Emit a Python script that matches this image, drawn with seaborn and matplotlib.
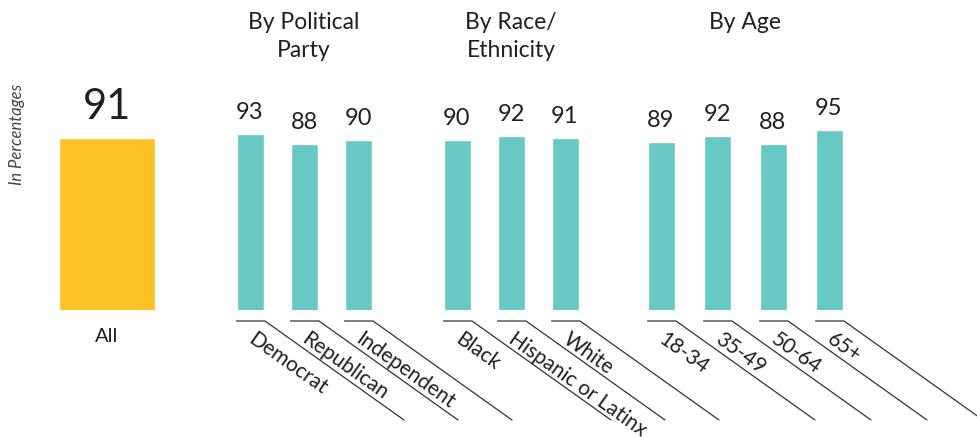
import numpy as np
import pandas as pd
import matplotlib.pyplot as plt
import seaborn as sns

sns.set_style('white')
plt.rcParams['font.family'] = ['Lato', 'DejaVu Sans']

# data
all_label = 'All'
all_value = 91
group_titles = ['By Political\nParty', 'By Race/\nEthnicity', 'By Age']
party_labels = ['Democrat', 'Republican', 'Independent']
party_values = [93, 88, 90]
race_labels = ['Black', 'Hispanic or Latinx', 'White']
race_values = [90, 92, 91]
age_labels = ['18-34', '35-49', '50-64', '65+']
age_values = [89, 92, 88, 95]

gold = '#FDC221'
teal = '#67C8C4'
ink = '#231F20'

# layout (x in pixels, y baseline at pixel 310, 2 px per point, axis starts at 5)
W, H = 978, 437
base_px = 310
y0 = 5
all_x = 107
group_x0 = [250, 457, 661]
group_step = [54, 54, 56]


def py(p):
    # pixel row -> data value
    return y0 + (base_px - p) / 2


rows = []
for g, (labels, values) in enumerate([(party_labels, party_values),
                                      (race_labels, race_values),
                                      (age_labels, age_values)]):
    for i, (lab, val) in enumerate(zip(labels, values)):
        rows.append({'group': g, 'label': lab, 'value': val,
                     'pos': group_x0[g] + i * group_step[g]})
df = pd.DataFrame(rows)

fig = plt.figure(figsize=(W / 100, H / 100), dpi=100)
ax = fig.add_axes([0, (H - base_px) / H, 1, base_px / H])

sns.barplot(x=[all_x], y=[all_value], native_scale=True, width=96,
            color=gold, saturation=1, ax=ax)
sns.barplot(data=df, x='pos', y='value', native_scale=True, width=0.5,
            color=teal, saturation=1, ax=ax)

ax.set_xlim(0, W)
ax.set_ylim(y0, py(0))
ax.axis('off')

# All bar labels
ax.text(all_x, all_value + 9.5, str(all_value), ha='center', va='baseline',
        fontsize=30, color=ink)
ax.text(all_x, py(342), all_label, ha='center', va='baseline',
        fontsize=14.5, color=ink, clip_on=False)

# value labels
for _, r in df.iterrows():
    ax.text(r['pos'], r['value'] + 7.5, str(r['value']), ha='center',
            va='baseline', fontsize=17, color=ink)

# group titles
for g, title in enumerate(group_titles):
    sub = df[df['group'] == g]
    cx = (sub['pos'].min() + sub['pos'].max()) / 2
    ax.text(cx, py(12), title, ha='center', va='top', fontsize=16.5,
            color=ink, linespacing=1.4, clip_on=False)

# leader lines and rotated category labels
dx, dy = 139, 99
ang = np.degrees(np.arctan2(dy, dx))
for _, r in df.iterrows():
    left = r['pos'] - 13.5
    right = r['pos'] + 15
    ax.plot([left, right, right + dx], [py(321), py(321), py(321 + dy)],
            color='#333333', lw=0.9, clip_on=False)
    ax.text(right - 9, py(329), r['label'], rotation=-ang,
            rotation_mode='anchor', ha='left', va='top', fontsize=15,
            color=ink, clip_on=False)

fig.text(17 / W, 1 - 134 / H, 'In Percentages', rotation=90, ha='center',
         va='center', fontsize=12, style='italic', color='#444444')

fig.savefig('out.png', dpi=100)
